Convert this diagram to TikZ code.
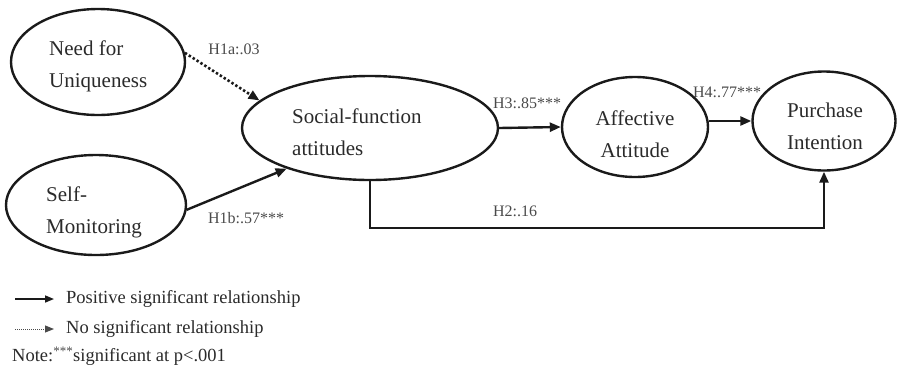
\documentclass[tikz,border=0pt]{standalone}
\usepackage{fontspec}
\setmainfont{Liberation Serif}
\usetikzlibrary{shapes.geometric,arrows.meta}
\definecolor{ink}{HTML}{1A1A1A}
\definecolor{txt}{HTML}{2A2A2A}
\definecolor{lbl}{HTML}{4A4A4A}
\begin{document}
\begin{tikzpicture}[x=1pt,y=-1pt,
  construct/.style={draw=ink,line width=2.4pt,ellipse,inner sep=0pt},
  ctext/.style={text=txt,align=left,inner sep=0pt,font=\fontsize{21}{32}\selectfont},
  coef/.style={text=lbl,inner sep=0pt,font=\fontsize{16}{18}\selectfont},
  legtext/.style={text=txt,inner sep=0pt,anchor=west,font=\fontsize{18.5}{21}\selectfont},
  path/.style={draw=ink,line width=2.4pt,-{Triangle[length=11pt,width=9pt]}},
  nspath/.style={draw=ink,line width=2.6pt,dash pattern=on 2.4pt off 2.2pt,-{Triangle[length=11pt,width=9pt]}},
  legsolid/.style={draw=ink,line width=1.6pt,-{Triangle[length=9pt,width=7pt]}},
  legdot/.style={draw=lbl,line width=1pt,dash pattern=on 1pt off 1pt,-{Triangle[length=9pt,width=7pt]}}]
\useasboundingbox (0,0) rectangle (897,373);

% constructs
\node[construct,minimum width=174pt,minimum height=106pt] (nfu) at (98,62) {};
\node[construct,minimum width=180pt,minimum height=100pt] (sm) at (96,205) {};
\node[construct,minimum width=256pt,minimum height=104pt] (soc) at (370,128) {};
\node[construct,minimum width=146pt,minimum height=100pt] (aff) at (635,127) {};
\node[construct,minimum width=143pt,minimum height=99pt] (pur) at (824,121) {};

% construct names
\node[ctext,anchor=west] (nfu-t) at (49,66) {Need for\\Uniqueness};
\node[ctext,anchor=west] (sm-t) at (46,212) {Self-\\Monitoring};
\node[ctext,anchor=west] (soc-t) at (292,132) {Social-function\\attitudes};
\node[ctext,align=center] (aff-t) at (635,134) {Affective\\Attitude};
\node[ctext,align=center] (pur-t) at (825,126) {Purchase\\Intention};

% hypothesised paths
\draw[nspath] (nfu.6) -- (soc.166);
\draw[path] (sm.-3) -- (soc.206);
\draw[path] (soc.east) -- (aff.west);
\draw[path] (pur.west -| aff.east) -- (pur.west);
\coordinate (h2turn) at (824,228);
\draw[path] (soc.south) |- (h2turn) -- (pur.south);

% coefficients
\node[coef] (h1a) at (234,49) {H1a:.03};
\node[coef] (h1b) at (246,218) {H1b:.57***};
\node[coef] (h3) at (527,103) {H3:.85***};
\node[coef] (h4) at (727,92) {H4:.77***};
\node[coef] (h2) at (515,211) {H2:.16};

% legend
\coordinate (ls1) at (15,299); \coordinate (ls2) at (54,299);
\coordinate (ld1) at (15,329); \coordinate (ld2) at (54,329);
\draw[legsolid] (ls1) -- (ls2);
\draw[legdot] (ld1) -- (ld2);
\node[legtext] (leg1) at (66,299) {Positive significant relationship};
\node[legtext] (leg2) at (66,329) {No significant relationship};
\node[legtext] (note) at (12,356) {Note:\textsuperscript{\color{lbl}***}significant at p<.001};
\end{tikzpicture}
\end{document}
